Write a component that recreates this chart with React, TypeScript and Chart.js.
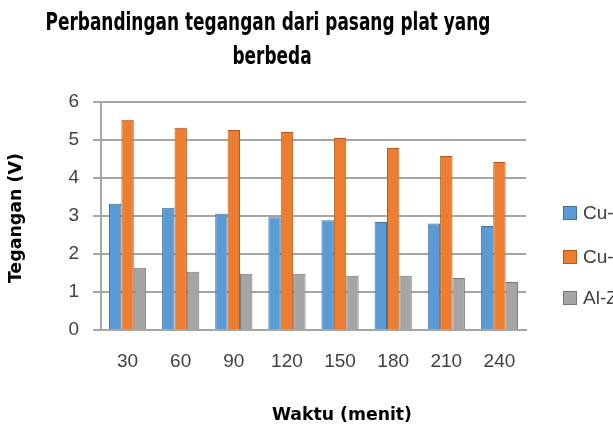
import React, { useEffect, useRef } from "react";
import { Chart, registerables } from "chart.js";

Chart.register(...registerables);

const categories = ["30", "60", "90", "120", "150", "180", "210", "240"];
const seriesLabels = ["Cu-Zn", "Cu-Al", "Al-Zn"];
const cuZn = [3.32, 3.22, 3.06, 2.97, 2.89, 2.84, 2.8, 2.74];
const cuAl = [5.53, 5.32, 5.26, 5.21, 5.05, 4.79, 4.58, 4.42];
const alZn = [1.64, 1.53, 1.48, 1.48, 1.43, 1.43, 1.37, 1.26];
const titleLines = ["Perbandingan tegangan dari pasang plat yang", "berbeda"];
const yTitle = "Tegangan (V)";
const xTitle = "Waktu (menit)";

const fillColors = ["#5b9bd5", "#ed7d31", "#a5a5a5"];
const borderColors = ["#41719c", "#ae5a21", "#787878"];
const TICK_FONT = "'Liberation Sans', Arial, sans-serif";
const TITLE_FONT = "'Liberation Sans Narrow', 'DejaVu Sans Condensed', 'Liberation Sans', sans-serif";

function fitText(ctx: CanvasRenderingContext2D, text: string, cx: number, cy: number, font: string, width: number | null, sxOverride?: number, rotate?: boolean) {
  ctx.save();
  ctx.font = font;
  ctx.fillStyle = "#000";
  ctx.textAlign = "center";
  ctx.textBaseline = "middle";
  const w = ctx.measureText(text).width;
  const sx = sxOverride ?? (width ? width / w : 1);
  ctx.translate(cx, cy);
  if (rotate) ctx.rotate(-Math.PI / 2);
  ctx.scale(sx, 1);
  ctx.fillText(text, 0, 0);
  ctx.restore();
  return sx;
}

const decorPlugin = {
  id: "decor",
  afterDraw(chart: any) {
    const ctx: CanvasRenderingContext2D = chart.ctx;
    const tf = "bold 25px " + TITLE_FONT;
    const sx = fitText(ctx, titleLines[0], 268, 23, tf, 445);
    fitText(ctx, titleLines[1], 272, 57, tf, null, sx);
    const af = "bold 17px " + TITLE_FONT;
    fitText(ctx, yTitle, 17, 218, af, 130, undefined, true);
    fitText(ctx, xTitle, 342, 416, af, 140);
    // legend
    const ys = [213, 257, 298];
    chart.data.datasets.forEach((ds: any, i: number) => {
      ctx.save();
      ctx.fillStyle = ds.backgroundColor;
      ctx.fillRect(563, ys[i] - 7, 14, 14);
      ctx.strokeStyle = ds.borderColor;
      ctx.lineWidth = 1;
      ctx.strokeRect(563.5, ys[i] - 6.5, 13, 13);
      ctx.fillStyle = "#404040";
      ctx.font = "19px " + TICK_FONT;
      ctx.textAlign = "left";
      ctx.textBaseline = "middle";
      ctx.fillText(ds.label, 583, ys[i] + 1);
      ctx.restore();
    });
  },
};

export default function App() {
  const ref = useRef<HTMLCanvasElement>(null);
  useEffect(() => {
    if (!ref.current) return;
    const chart = new Chart(ref.current, {
      type: "bar",
      data: {
        labels: categories,
        datasets: [cuZn, cuAl, alZn].map((d, i) => ({
          label: seriesLabels[i],
          data: d,
          backgroundColor: fillColors[i],
          borderColor: borderColors[i],
          borderWidth: 1,
          categoryPercentage: 0.7,
          barPercentage: 1.0,
        })),
      },
      options: {
        responsive: false,
        animation: false,
        layout: { padding: { top: 102, right: 87, bottom: 50, left: 0 } },
        plugins: { legend: { display: false }, title: { display: false }, tooltip: { enabled: false } },
        scales: {
          x: {
            grid: { display: false, drawTicks: false },
            border: { display: true, color: "#a6a6a6", width: 2 },
            ticks: { font: { size: 19, family: TICK_FONT }, color: "#404040", padding: 20, maxRotation: 0 },
            afterFit: (s: any) => { s.height = 50; },
          },
          y: {
            min: 0,
            max: 6,
            ticks: { stepSize: 1, font: { size: 19, family: TICK_FONT }, color: "#404040", padding: 14 },
            grid: { color: "#a6a6a6", lineWidth: 2, tickLength: 8, drawTicks: true },
            border: { color: "#a6a6a6", width: 2 },
            afterFit: (s: any) => { s.width = 101; },
          },
        },
      },
      plugins: [decorPlugin],
    });
    return () => chart.destroy();
  }, []);
  return (
    <div style={{ position: "fixed", left: 0, top: 0, width: 613, height: 430, background: "#fff" }}>
      <canvas ref={ref} width={613} height={430} style={{ display: "block" }} />
    </div>
  );
}
